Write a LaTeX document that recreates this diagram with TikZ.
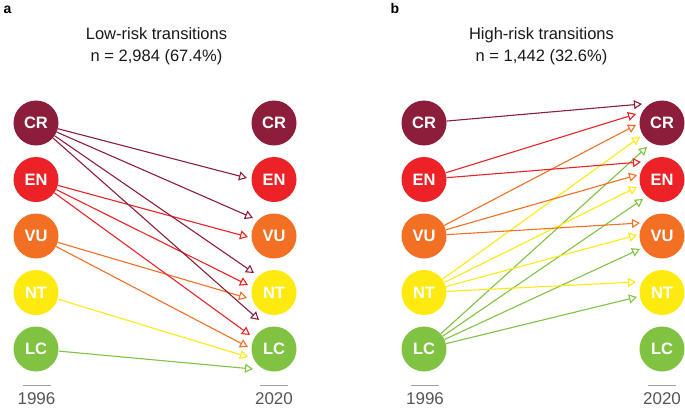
\documentclass[tikz,border=0pt]{standalone}
\usepackage{fontspec}
\setmainfont{Liberation Sans}
\usetikzlibrary{arrows.meta}
\definecolor{cCR}{HTML}{8C1D3B}
\definecolor{cEN}{HTML}{EC2227}
\definecolor{cVU}{HTML}{F36F23}
\definecolor{cNT}{HTML}{FFEA0F}
\definecolor{cLC}{HTML}{80C242}
\definecolor{cyear}{HTML}{555555}
\definecolor{ctick}{HTML}{A0A0A0}
\begin{document}
\begin{tikzpicture}[x=1pt,y=-1pt,
  cat/.style={circle, minimum size=45pt, inner sep=0pt, fill=#1, text=white,
    font=\fontsize{16.5}{16.5}\selectfont\bfseries},
  arr/.style={draw=#1, line width=1.1pt, -{Triangle[open,length=8pt,width=9pt,line width=1.1pt]}},
  yr/.style={text=cyear, anchor=base, font=\fontsize{17}{17}\selectfont},
  tickline/.style={draw=ctick, line width=1pt},
  ttl/.style={anchor=base, text=black!90, font=\fontsize{16.5}{16.5}\selectfont},
  panel/.style={anchor=base west, font=\fontsize{14}{14}\selectfont\bfseries}]
\useasboundingbox (0,0) rectangle (685,407);

% panel labels and titles
\node[panel] (pa) at (0,13) {a};
\node[panel] (pb) at (387,13) {b};
\node[ttl] (ta1) at (156.5,39.5) {Low-risk transitions};
\node[ttl] (ta2) at (156.5,61) {n = 2,984 (67.4\%)};
\node[ttl] (tb1) at (541.5,39.5) {High-risk transitions};
\node[ttl] (tb2) at (541.5,61) {n = 1,442 (32.6\%)};

% panel a circles
\node[cat=cCR] (aLCR) at (36,123) {CR};
\node[cat=cEN] (aLEN) at (36,179.5) {EN};
\node[cat=cVU] (aLVU) at (36,236) {VU};
\node[cat=cNT] (aLNT) at (36,292.5) {NT};
\node[cat=cLC] (aLLC) at (36,349) {LC};
\node[cat=cCR] (aRCR) at (274,123) {CR};
\node[cat=cEN] (aREN) at (274,179.5) {EN};
\node[cat=cVU] (aRVU) at (274,236) {VU};
\node[cat=cNT] (aRNT) at (274,292.5) {NT};
\node[cat=cLC] (aRLC) at (274,349) {LC};

% panel b circles
\node[cat=cCR] (bLCR) at (424,123) {CR};
\node[cat=cEN] (bLEN) at (424,179.5) {EN};
\node[cat=cVU] (bLVU) at (424,236) {VU};
\node[cat=cNT] (bLNT) at (424,292.5) {NT};
\node[cat=cLC] (bLLC) at (424,349) {LC};
\node[cat=cCR] (bRCR) at (662,123) {CR};
\node[cat=cEN] (bREN) at (662,179.5) {EN};
\node[cat=cVU] (bRVU) at (662,236) {VU};
\node[cat=cNT] (bRNT) at (662,292.5) {NT};
\node[cat=cLC] (bRLC) at (662,349) {LC};

% years
\draw[tickline] (23,385) -- (51,385);
\draw[tickline] (260,385) -- (288,385);
\draw[tickline] (411,385) -- (439,385);
\draw[tickline] (648,385) -- (676,385);
\node[yr] (ya1) at (36.5,404) {1996};
\node[yr] (ya2) at (274,404) {2020};
\node[yr] (yb1) at (425,404) {1996};
\node[yr] (yb2) at (662,404) {2020};

% panel a arrow ends
\coordinate (eCREN) at (247,178);
\coordinate (eCRVU) at (253,218);
\coordinate (eENVU) at (248,237);
\coordinate (eCRNT) at (254,273);
\coordinate (eENNT) at (248,285);
\coordinate (eVUNT) at (247,298);
\coordinate (eCRLC) at (259,320);
\coordinate (eENLC) at (250,335);
\coordinate (eVULC) at (248,347);
\coordinate (eNTLC) at (248,357);
\coordinate (eLCLC) at (253,369);

\draw[arr=cNT] (aLNT) -- (eNTLC);
\draw[arr=cLC] (aLLC) -- (eLCLC);
\draw[arr=cVU] (aLVU) -- (eVUNT);
\draw[arr=cVU] (aLVU) -- (eVULC);
\draw[arr=cEN] (aLEN) -- (eENVU);
\draw[arr=cEN] (aLEN) -- (eENNT);
\draw[arr=cEN] (aLEN) -- (eENLC);
\draw[arr=cCR] (aLCR) -- (eCREN);
\draw[arr=cCR] (aLCR) -- (eCRVU);
\draw[arr=cCR] (aLCR) -- (eCRNT);
\draw[arr=cCR] (aLCR) -- (eCRLC);

% panel b arrow ends
\coordinate (fCRCR) at (642,104);
\coordinate (fENCR) at (636,114);
\coordinate (fVUCR) at (636,125);
\coordinate (fNTCR) at (640,137);
\coordinate (fLCCR) at (647,147);
\coordinate (fENEN) at (641,162);
\coordinate (fVUEN) at (637,175);
\coordinate (fNTEN) at (637,187);
\coordinate (fLCEN) at (643,199);
\coordinate (fVUVU) at (640,223);
\coordinate (fNTVU) at (637,235);
\coordinate (fLCVU) at (640,249);
\coordinate (fNTNT) at (636,282);
\coordinate (fLCNT) at (637,297);

\draw[arr=cLC] (bLLC) -- (fLCCR);
\draw[arr=cLC] (bLLC) -- (fLCEN);
\draw[arr=cLC] (bLLC) -- (fLCVU);
\draw[arr=cLC] (bLLC) -- (fLCNT);
\draw[arr=cNT] (bLNT) -- (fNTCR);
\draw[arr=cNT] (bLNT) -- (fNTEN);
\draw[arr=cNT] (bLNT) -- (fNTVU);
\draw[arr=cNT] (bLNT) -- (fNTNT);
\draw[arr=cVU] (bLVU) -- (fVUCR);
\draw[arr=cVU] (bLVU) -- (fVUEN);
\draw[arr=cVU] (bLVU) -- (fVUVU);
\draw[arr=cEN] (bLEN) -- (fENCR);
\draw[arr=cEN] (bLEN) -- (fENEN);
\draw[arr=cCR] (bLCR) -- (fCRCR);
\end{tikzpicture}
\end{document}
